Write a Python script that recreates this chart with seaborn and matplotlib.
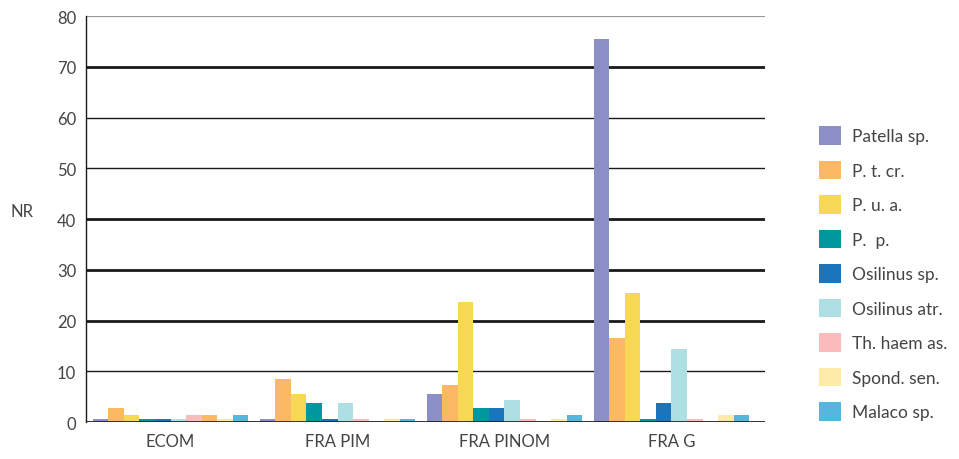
import pandas as pd
import matplotlib.pyplot as plt
import seaborn as sns
from matplotlib.patches import Patch

# Data
sites = ['ECOM', 'FRA PIM', 'FRA PINOM', 'FRA G']
taxa = ['Patella sp.', 'P. t. cr.', 'P. u. a.', 'P.  p.', 'Osilinus sp.',
        'Osilinus atr.', 'Th. haem as.', 'P. t. cr. (2)', 'Spond. sen.', 'Malaco sp.']
patella = [0.5, 0.5, 5.5, 75.5]
pt_cr = [2.7, 8.4, 7.3, 16.6]
pu_a = [1.3, 5.6, 23.7, 25.4]
p_p = [0.5, 3.7, 2.8, 0.5]
osil_sp = [0.5, 0.5, 2.8, 3.7]
osil_atr = [0.5, 3.7, 4.4, 14.4]
th_haem = [1.3, 0.5, 0.5, 0.5]
pt_cr2 = [1.3, 0.0, 0.0, 0.0]
spond = [0.5, 0.5, 0.5, 1.4]
malaco = [1.3, 0.5, 1.4, 1.4]

colors = ['#8B8FC6', '#FDB863', '#F6D855', '#00979E', '#1A75BC',
          '#AEDFE3', '#F9BBBB', '#FDB863', '#FDE9A8', '#55B6DE']

series = [patella, pt_cr, pu_a, p_p, osil_sp, osil_atr, th_haem, pt_cr2, spond, malaco]
rows = []
for name, vals in zip(taxa, series):
    for site, v in zip(sites, vals):
        rows.append({'Site': site, 'Taxon': name, 'NR': v})
df = pd.DataFrame(rows)

sns.set_style('white')
plt.rcParams['font.family'] = ['Lato', 'DejaVu Sans']
text_col = '#444444'

fig = plt.figure(figsize=(9.59, 4.6), dpi=100)
ax = fig.add_axes([0.0897, 0.0804, 0.708, 0.8826])

sns.barplot(data=df, x='Site', y='NR', hue='Taxon', hue_order=taxa,
            palette=colors, width=0.93, gap=0, ax=ax, legend=False,
            linewidth=0, saturation=1)

ax.set_xlim(-0.506, 3.56)
ax.set_ylim(0, 80)
ax.set_yticks(range(0, 81, 10))
ax.set_axisbelow(True)
ax.grid(axis='y', color='#1a1a1a', linewidth=1)
thick = {20, 30, 40, 70}
for val, gl in zip(ax.get_yticks(), ax.get_ygridlines()):
    if int(val) in thick:
        gl.set_linewidth(2)
    if int(val) == 80:
        gl.set_color('#999999')
        gl.set_linewidth(0.8)

for s in ['top', 'right', 'bottom']:
    ax.spines[s].set_visible(False)
ax.spines['left'].set_color('#1a1a1a')
ax.spines['left'].set_linewidth(1)
ax.axhline(0, color='#1a1a1a', linewidth=1.2, zorder=3)

ax.tick_params(axis='y', direction='out', length=4, color='#bbbbbb',
               labelsize=12, labelcolor=text_col, pad=3)
ax.tick_params(axis='x', length=0, labelsize=12, labelcolor=text_col, pad=8)
ax.set_xlabel('')
ax.set_ylabel('NR', rotation=0, fontsize=12, color=text_col)
ax.yaxis.set_label_coords(-0.095, 0.5)

# legend without the unlabelled duplicate orange series
handles = [Patch(facecolor=c, edgecolor='none', label=t)
           for t, c in zip(taxa, colors) if t != 'P. t. cr. (2)']
fig.legend(handles=handles, loc='center left', bbox_to_anchor=(0.838, 0.403),
           frameon=False, fontsize=12.5, labelcolor=text_col,
           handlelength=1.25, handleheight=1.25, labelspacing=0.93, handletextpad=0.65)

fig.savefig('out.png', dpi=100)
